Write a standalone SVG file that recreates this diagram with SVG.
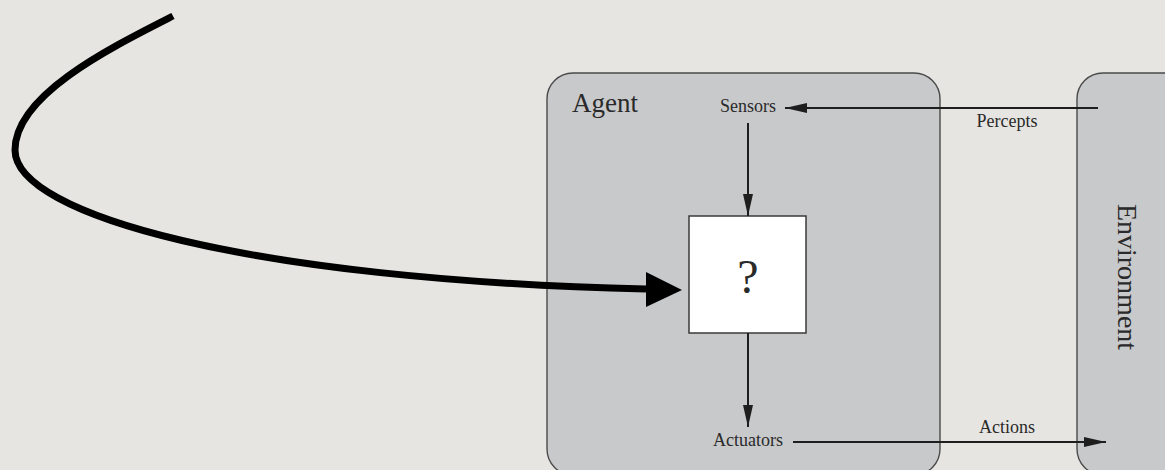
<svg xmlns="http://www.w3.org/2000/svg" width="1165" height="470" viewBox="0 0 1165 470">
<defs>
<style>
.box{fill:#c8c9cb;stroke:#4a4a4a;stroke-width:1.4}
.lbl{font-family:"Liberation Serif","Times New Roman",serif;fill:#2a2a2a}
.thin{stroke:#1e1e1e;stroke-width:2;fill:none}
</style>
<marker id="ah" markerUnits="userSpaceOnUse" markerWidth="22" markerHeight="10" refX="22" refY="5" orient="auto">
<path d="M0,0 L22,5 L0,10 Z" fill="#1e1e1e"/>
</marker>
</defs>
<rect x="0" y="0" width="1165" height="470" fill="#e6e5e2"/>
<g id="agent">
<path class="box" d="M573,73 L914,73 A26,26 0 0 1 940,99 L940,449 A26,26 0 0 1 914,475 L573,475 A26,26 0 0 1 547,449 L547,99 A26,26 0 0 1 573,73 Z"/>
<text class="lbl" x="572" y="112" font-size="27">Agent</text>
</g>
<g id="environment">
<path class="box" d="M1103,73 L1200,73 L1200,475 L1103,475 A26,26 0 0 1 1077,449 L1077,99 A26,26 0 0 1 1103,73 Z"/>
<text class="lbl" font-size="28" text-anchor="middle" transform="translate(1118,277) rotate(90)">Environment</text>
</g>
<g id="sensors">
<text class="lbl" x="748" y="112" font-size="18" text-anchor="middle">Sensors</text>
</g>
<g id="program">
<rect x="689" y="216" width="117" height="117" fill="#ffffff" stroke="#3a3a3a" stroke-width="1.5"/>
<text class="lbl" x="748" y="293" font-size="48" text-anchor="middle" fill="#1a1a1a">?</text>
</g>
<g id="actuators">
<text class="lbl" x="748" y="446" font-size="18" text-anchor="middle">Actuators</text>
</g>
<g id="connectors">
<line class="thin" x1="1098" y1="108" x2="785" y2="108" marker-end="url(#ah)"/>
<text class="lbl" x="1007" y="127" font-size="18" text-anchor="middle">Percepts</text>
<line class="thin" x1="748" y1="123" x2="748" y2="216" marker-end="url(#ah)"/>
<line class="thin" x1="748" y1="333" x2="748" y2="427" marker-end="url(#ah)"/>
<line class="thin" x1="793" y1="442" x2="1106" y2="442" marker-end="url(#ah)"/>
<text class="lbl" x="1007" y="433" font-size="18" text-anchor="middle">Actions</text>
<path d="M173,16 C110,48 15,95 15,150 C15,215 250,280 646,289" fill="none" stroke="#000" stroke-width="7"/>
<polygon points="646,272 682,290 646,307" fill="#000"/>
</g>
</svg>
